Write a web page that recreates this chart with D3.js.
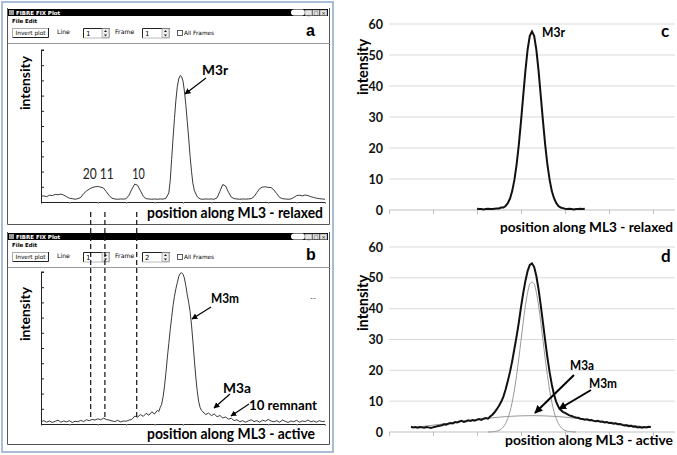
<!DOCTYPE html>
<html><head><meta charset="utf-8">
<script src="https://cdn.jsdelivr.net/npm/d3@7/dist/d3.min.js"></script>
<style>
body{margin:0;background:#fff}
svg{display:block}
text{font-family:Lato,"Open Sans",sans-serif}
</style>
</head><body>
<svg id="chart" width="677" height="455"></svg>
<script>
// ---------- DATA ----------
// panel a: relaxed profile (position, intensity in plot units)
const profileRelaxed = [[0,0.38],[1,0.40],[2,0.35],[3,0.45],[4,0.42],[5,0.50],[6,0.48],[7,0.52],[8,0.45],[9,0.35],[10,0.25],[11,0.22],[12,0.18],[13,0.22],[14,0.30],[15,0.55],[16,0.72],[17,0.85],[18,0.95],[19,1.00],[20,1.02],[21,0.98],[22,0.92],[23,0.68],[24,0.42],[25,0.25],[26,0.20],[27,0.18],[28,0.20],[29,0.19],[30,0.22],[31,0.45],[32,0.85],[33,1.18],[34,1.10],[35,0.75],[36,0.38],[37,0.22],[38,0.20],[39,0.18],[40,0.20],[41,0.18],[42,0.20],[43,0.19],[44,0.25],[45,0.60],[45.5,1.4],[46,2.8],[46.5,4.2],[47,5.5],[47.5,6.7],[48,7.6],[48.5,8.1],[49,8.32],[49.5,8.25],[50,7.95],[50.5,7.3],[51,6.4],[51.5,5.3],[52,4.2],[52.5,3.0],[53,2.0],[53.5,1.2],[54,0.75],[55,0.35],[56,0.20],[57,0.18],[58,0.20],[59,0.19],[60,0.20],[61,0.18],[62,0.28],[63,0.70],[64,1.15],[65,1.05],[66,0.65],[67,0.32],[68,0.22],[69,0.20],[70,0.18],[71,0.20],[72,0.19],[73,0.20],[74,0.22],[75,0.35],[76,0.62],[77,0.88],[78,0.98],[79,1.00],[80,0.96],[81,0.95],[82,0.80],[83,0.55],[84,0.30],[85,0.22],[86,0.20],[87,0.18],[88,0.20],[89,0.30],[90,0.42],[91,0.45],[92,0.40],[93,0.46],[94,0.42],[95,0.35],[96,0.30],[97,0.25],[98,0.22],[99,0.20],[100,0.18]];
// panel b: active profile
const profileActive = [[0,0.15],[1,0.22],[2,0.12],[3,0.2],[4,0.1],[5,0.18],[6,0.25],[7,0.12],[8,0.2],[9,0.14],[10,0.22],[11,0.1],[12,0.18],[13,0.15],[14,0.24],[15,0.16],[16,0.28],[17,0.22],[18,0.3],[19,0.26],[20,0.34],[21,0.28],[22,0.38],[23,0.3],[24,0.26],[25,0.2],[26,0.16],[27,0.24],[28,0.14],[29,0.2],[30,0.18],[31,0.26],[32,0.3],[33,0.52],[34,0.45],[35,0.62],[36,0.5],[37,0.7],[38,0.58],[39,0.8],[40,0.66],[41,0.9],[41.5,0.82],[42,1.1],[42.5,1.3],[43,1.8],[43.5,2.5],[44,3.4],[44.5,4.4],[45,5.3],[45.5,6.2],[46,7.0],[46.5,7.8],[47,8.4],[47.5,8.9],[48,9.3],[48.5,9.7],[49,9.9],[49.5,9.95],[50,9.85],[50.5,9.6],[51,9.1],[51.5,8.5],[52,8.0],[52.5,7.4],[53,6.5],[53.5,5.4],[54,4.2],[54.5,3.1],[55,2.2],[55.5,1.5],[56,1.1],[56.5,0.9],[57,0.8],[58,0.62],[59,0.72],[60,0.55],[61,0.66],[62,0.48],[63,0.56],[64,0.4],[65,0.46],[66,0.32],[67,0.38],[68,0.22],[69,0.28],[70,0.15],[71,0.22],[72,0.12],[73,0.2],[74,0.28],[75,0.16],[76,0.22],[77,0.12],[78,0.25],[79,0.18],[80,0.3],[81,0.2],[82,0.14],[83,0.22],[84,0.12],[85,0.26],[86,0.18],[87,0.1],[88,0.2],[89,0.15],[90,0.24],[91,0.12],[92,0.2],[93,0.16],[94,0.26],[95,0.14],[96,0.2],[97,0.12],[98,0.22],[99,0.16],[100,0.18]];
// reflection positions marked by dashed lines (20, 11, 10)
const reflectionPos = [17.5, 22.5, 33.7];
const reflectionLabels = ["20 11", "10"];
// panel c: relaxed M3 profile
const profileC = [[20,0.4],[20.5,0.3],[21,0.3],[21.5,0.2],[22,0.3],[22.5,0.4],[23,0.3],[23.5,0.3],[24,0.4],[24.5,0.5],[25,0.5],[25.5,0.8],[26,0.8],[26.5,1.3],[27,2.2],[27.5,3.7],[28,6.1],[28.5,9.7],[29,14.6],[29.5,21.0],[30,28.6],[30.5,36.8],[31,44.9],[31.5,51.7],[32,56.2],[32.5,57.6],[33,56.1],[33.5,51.6],[34,44.8],[34.5,36.7],[35,28.6],[35.5,21.0],[36,14.6],[36.5,9.8],[37,6.1],[37.5,3.8],[38,2.3],[38.5,1.3],[39,0.8],[39.5,0.6],[40,0.4],[40.5,0.3],[41,0.4],[41.5,0.3],[42,0.2],[42.5,0.3],[43,0.3],[43.5,0.4],[44,0.3],[44.5,0.4]];
// panel d: active M3 profile and its two fitted components
const profileD = [[5,1.7],[5.5,1.5],[6,1.6],[6.5,1.4],[7,1.6],[7.5,1.5],[8,1.4],[8.5,1.6],[9,1.5],[9.5,1.3],[10,1.5],[10.5,1.7],[11,1.9],[11.5,2.0],[12,2.2],[12.5,2.5],[13,2.4],[13.5,2.7],[14,2.9],[14.5,2.8],[15,3.2],[15.5,3.1],[16,3.4],[16.5,3.6],[17,3.3],[17.5,3.5],[18,3.8],[18.5,3.6],[19,3.9],[19.5,3.7],[20,4.0],[20.5,4.2],[21,3.9],[21.5,4.3],[22,4.5],[22.5,4.3],[23,5.0],[23.5,5.6],[24,6.4],[24.5,7.4],[25,8.5],[25.5,9.8],[26,11.5],[26.5,13.8],[27,16.5],[27.5,19.5],[28,23.0],[28.5,27.0],[29,31.0],[29.5,35.5],[30,40.5],[30.5,45.0],[31,49.0],[31.5,52.2],[32,54.2],[32.5,54.7],[33,53.5],[33.5,50.5],[34,46.2],[34.5,41.0],[35,35.3],[35.5,29.6],[36,24.2],[36.5,19.4],[37,15.4],[37.5,12.2],[38,9.8],[38.5,8.2],[39,7.2],[39.5,6.5],[40,6.2],[40.5,5.8],[41,5.4],[41.5,5.2],[42,4.9],[42.5,4.7],[43,4.6],[43.5,4.3],[44,4.2],[44.5,4.0],[45,4.1],[45.5,3.8],[46,3.9],[46.5,3.6],[47,3.5],[47.5,3.6],[48,3.3],[48.5,3.4],[49,3.1],[49.5,3.2],[50,2.9],[50.5,3.0],[51,2.7],[51.5,2.8],[52,2.5],[52.5,2.6],[53,2.3],[53.5,2.1],[54,2.2],[54.5,1.9],[55,2.0],[55.5,1.7],[56,1.8],[56.5,1.5],[57,1.6],[57.5,1.4],[58,1.6],[58.5,1.5],[59,1.7],[59.5,1.6]];
const fitM3m = [[22.5,0],[23,0.02],[23.5,0.08],[24,0.15],[24.5,0.29],[25,0.5],[25.5,0.97],[26,1.67],[26.5,2.76],[27,4.4],[27.5,6.6],[28,9.7],[28.5,13.6],[29,18.4],[29.5,23.8],[30,29.7],[30.5,35.6],[31,40.9],[31.5,45.2],[32,48.0],[32.5,48.6],[33,48.0],[33.5,45.2],[34,40.9],[34.5,35.6],[35,29.7],[35.5,23.8],[36,18.4],[36.5,13.6],[37,9.7],[37.5,6.6],[38,4.4],[38.5,2.76],[39,1.67],[39.5,0.97],[40,0.5],[40.5,0.29],[41,0.15],[41.5,0.08],[42,0.02],[42.5,0]];
const fitM3a = [[5,1.43],[7.5,1.8],[10,2.21],[12.5,2.65],[15,3.12],[17.5,3.59],[20,4.04],[22.5,4.46],[25,4.81],[27.5,5.08],[30,5.24],[32.5,5.3],[35,5.24],[37.5,5.08],[40,4.81],[42.5,4.46],[45,4.04],[47.5,3.59],[50,3.12],[52.5,2.65],[55,2.21],[57.5,1.8],[59.5,1.5]];
const yTicksRight = [0,10,20,30,40,50,60];
const xTicksRight = [0,10,20,30,40,50,60];

// ---------- DRAW ----------
const svg = d3.select("#chart");
const defs = svg.append("defs");
function marker(id, w){
  defs.append("marker").attr("id",id).attr("viewBox","0 0 10 10").attr("refX",9).attr("refY",5)
    .attr("markerUnits","userSpaceOnUse").attr("markerWidth",w).attr("markerHeight",w).attr("orient","auto")
    .append("path").attr("d","M0,0 L10,5 L0,10 z").attr("fill","#000");
}
marker("arS",6); marker("arL",8);

svg.append("rect").attr("x",2).attr("y",2).attr("width",331).attr("height",450)
  .attr("fill","none").attr("stroke","#a9bdd6").attr("stroke-width",2);

function chrome(dy, frameVal, letter, top, bottom){
  const g = svg.append("g").attr("transform",`translate(0,${dy})`);
  g.append("path").attr("d",`M7.5,${top} V${bottom} H329.5 V${top}`).attr("fill","none").attr("stroke","#555").attr("stroke-width",1);
  g.append("rect").attr("x",8).attr("y",9).attr("width",320).attr("height",7).attr("fill","#000");
  g.append("rect").attr("x",9).attr("y",10).attr("width",5).attr("height",5).attr("fill","#9a9a9a");
  g.append("text").attr("x",16).attr("y",14.6).attr("fill","#fff").attr("font-size",5.5).attr("font-weight","bold")
    .style("font-family","DejaVu Sans").text("FIBRE FIX Plot");
  g.append("rect").attr("x",291).attr("y",9.6).attr("width",14).attr("height",6).attr("rx",3).attr("fill","#fff");
  [305,312.5,320].forEach((bx,i)=>{
    g.append("rect").attr("x",bx).attr("y",10).attr("width",7).attr("height",5.5).attr("fill","#e4e4e4").attr("stroke","#666").attr("stroke-width",0.5);
    g.append("text").attr("x",bx+3.5).attr("y",14.8).attr("text-anchor","middle").attr("font-size",5).attr("fill","#000")
      .style("font-family","DejaVu Sans").text(["_","□","×"][i]);
  });
  g.append("text").attr("x",12).attr("y",22.5).attr("font-size",5.5).attr("font-weight","bold").style("font-family","DejaVu Sans").text("File");
  g.append("text").attr("x",25).attr("y",22.5).attr("font-size",5.5).attr("font-weight","bold").style("font-family","DejaVu Sans").text("Edit");
  g.append("rect").attr("x",12).attr("y",28).attr("width",37).attr("height",9.5).attr("fill","#fff");
  g.append("path").attr("d","M12.5,37 V28.5 H48").attr("fill","none").attr("stroke","#aaa");
  g.append("path").attr("d","M12.5,37.5 H48.5 V28").attr("fill","none").attr("stroke","#222");
  g.append("text").attr("x",30.5).attr("y",35.2).attr("text-anchor","middle").attr("font-size",5.8).style("font-family","DejaVu Sans").text("Invert plot");
  g.append("text").attr("x",57).attr("y",33.8).attr("font-size",6.2).style("font-family","DejaVu Sans").text("Line");
  function spin(x, w, val){
    g.append("rect").attr("x",x).attr("y",28).attr("width",w).attr("height",10).attr("fill","#fff");
    g.append("path").attr("d",`M${x+0.5},38 V28.5 H${x+w}`).attr("fill","none").attr("stroke","#222");
    g.append("path").attr("d",`M${x+0.5},38 H${x+w-0.5} V28.5`).attr("fill","none").attr("stroke","#bbb");
    g.append("text").attr("x",x+3).attr("y",36).attr("font-size",7).style("font-family","DejaVu Sans").text(val);
    const bx = x+w-8;
    g.append("rect").attr("x",bx).attr("y",28.5).attr("width",7).attr("height",9).attr("fill","#eee").attr("stroke","#777").attr("stroke-width",0.5);
    g.append("path").attr("d",`M${bx+2},32 L${bx+3.5},30 L${bx+5},32 Z M${bx+2},34.5 L${bx+3.5},36.5 L${bx+5},34.5 Z`).attr("fill","#222");
  }
  spin(83,27,"1");
  g.append("text").attr("x",115).attr("y",33.8).attr("font-size",6.2).style("font-family","DejaVu Sans").text("Frame");
  spin(142,28,frameVal);
  g.append("rect").attr("x",177.5).attr("y",30.5).attr("width",5).attr("height",5).attr("fill","#fff").attr("stroke","#333").attr("stroke-width",0.8);
  g.append("text").attr("x",184).attr("y",35).attr("font-size",5.8).style("font-family","DejaVu Sans").text("All Frames");
  g.append("text").attr("x",306).attr("y",36).attr("font-size",16).attr("font-weight","bold")
    .style("font-family","Liberation Sans").text(letter);
  g.append("line").attr("x1",8).attr("x2",330).attr("y1",43.5).attr("y2",43.5).attr("stroke","#999");
}
chrome(0,"1","a",8,224.5);
chrome(224,"2","b",8,220.5);

// left plots
const xL = d3.scaleLinear().domain([0,100]).range([41,325]);
const yA = d3.scaleLinear().domain([0,10]).range([202,50]);
const yB = d3.scaleLinear().domain([0,10]).range([424,272]);

function leftPlot(y, data, yLabelY, xLabel, xLabelY, xLabelEnd, xLabelLen){
  const g = svg.append("g");
  const ax = g.append("g").attr("transform","translate(0,"+y.range()[0]+")")
    .call(d3.axisBottom(xL).ticks(10).tickSize(2).tickFormat("").tickSizeOuter(0));
  ax.select(".domain").attr("stroke","#222");
  ax.selectAll(".tick line").attr("stroke","#999");
  const ay = g.append("g").attr("transform","translate(41,0)")
    .call(d3.axisRight(y).ticks(10).tickSize(3).tickFormat("").tickSizeOuter(0));
  ay.select(".domain").attr("stroke","#222");
  ay.selectAll(".tick line").attr("stroke","#222");
  g.append("line").attr("x1",41).attr("x2",44).attr("y1",y.range()[1]).attr("y2",y.range()[1]).attr("stroke","#222");
  g.append("path").datum(data)
    .attr("d",d3.line().x(d=>xL(d[0])).y(d=>y(d[1])))
    .attr("fill","none").attr("stroke","#222").attr("stroke-width",0.9);
  g.append("text").attr("transform",`translate(30,${yLabelY}) rotate(-90)`).attr("text-anchor","middle")
    .attr("font-size",14).attr("font-weight","bold").text("intensity");
  g.append("text").attr("x",xLabelEnd).attr("y",xLabelY).attr("text-anchor","end").attr("font-size",14.5).attr("font-weight","bold")
    .attr("textLength",xLabelLen).attr("lengthAdjust","spacingAndGlyphs").text(xLabel);
  return g;
}
const gA = leftPlot(yA, profileRelaxed, 83, "position along ML3 - relaxed", 217.5, 323, 176);
const gB = leftPlot(yB, profileActive, 314, "position along ML3 - active", 439, 315, 168);

gA.append("text").attr("x",xL(reflectionPos[0])-8).attr("y",179).attr("font-size",14.5)
  .attr("textLength",31).attr("lengthAdjust","spacingAndGlyphs").attr("fill","#222").text(reflectionLabels[0]);
gA.append("text").attr("x",xL(reflectionPos[2])-4.5).attr("y",179).attr("font-size",14.5)
  .attr("textLength",12.5).attr("lengthAdjust","spacingAndGlyphs").attr("fill","#222").text(reflectionLabels[1]);
svg.selectAll("line.refl").data(reflectionPos).join("line").attr("class","refl")
  .attr("x1",d=>xL(d)).attr("x2",d=>xL(d)).attr("y1",212).attr("y2",417)
  .attr("stroke","#111").attr("stroke-width",1.2).attr("stroke-dasharray","5,3");

function ann(g, x, y, txt, size, len){
  const t = g.append("text").attr("x",x).attr("y",y).attr("font-size",size).attr("font-weight","bold").text(txt);
  if(len) t.attr("textLength",len).attr("lengthAdjust","spacingAndGlyphs");
}
function arrow(g, x1,y1,x2,y2, w, m){
  g.append("line").attr("x1",x1).attr("y1",y1).attr("x2",x2).attr("y2",y2)
    .attr("stroke","#000").attr("stroke-width",w).attr("marker-end",`url(#${m})`);
}
ann(gA,202,75,"M3r",14,26);
arrow(gA,206,78,185,94,1.2,"arS");
ann(gB,211,303,"M3m",14,28);
arrow(gB,211,307,192,319,1.2,"arS");
ann(gB,223,393,"M3a",14,28);
arrow(gB,230,394,214,408,1.2,"arS");
ann(gB,249,410,"10 remnant",14,68);
arrow(gB,249,404,231,416,1.2,"arS");
gB.append("text").attr("x",310).attr("y",301).attr("font-size",8).attr("fill","#333").text("--");

// right plots
const xR = d3.scaleLinear().domain([0,65]).range([389,675]);
const yC = d3.scaleLinear().domain([0,60]).range([210,24]);
const yD = d3.scaleLinear().domain([0,60]).range([432,247]);

function rightPlot(y, yLabelY, xLabel, xLabelY, xLabelLen){
  const g = svg.append("g");
  g.selectAll("line.grid").data(yTicksRight).join("line").attr("class","grid")
    .attr("x1",xR(0)).attr("x2",xR(65)).attr("y1",d=>y(d)).attr("y2",d=>y(d))
    .attr("stroke",d=>d===0?"#bfbfbf":"#d9d9d9").attr("stroke-width",1);
  const ax = g.append("g").attr("transform","translate(0,"+y(0)+")")
    .call(d3.axisBottom(xR).tickValues(xTicksRight).tickSize(4).tickFormat("").tickSizeOuter(0));
  ax.select(".domain").remove();
  ax.selectAll(".tick line").attr("stroke","#bfbfbf");
  const ay = g.append("g").attr("transform","translate(389,0)")
    .call(d3.axisLeft(y).tickValues(yTicksRight).tickSize(0).tickPadding(6));
  ay.select(".domain").remove();
  ay.selectAll("text").attr("font-size",12.5).attr("font-weight","bold").attr("fill","#111")
    .style("font-family","Lato");
  g.append("text").attr("transform",`translate(368,${yLabelY}) rotate(-90)`).attr("text-anchor","middle")
    .attr("font-size",14.5).attr("font-weight","bold").text("intensity");
  g.append("text").attr("x",673).attr("y",xLabelY).attr("text-anchor","end").attr("font-size",13.5).attr("font-weight","bold")
    .attr("textLength",xLabelLen).attr("lengthAdjust","spacingAndGlyphs").text(xLabel);
  return g;
}
const gC = rightPlot(yC, 67, "position along ML3 - relaxed", 232, 173);
const gD = rightPlot(yD, 303, "position along ML3 - active", 445, 168);

const lineC = d3.line().x(d=>xR(d[0])).y(d=>yC(d[1]));
const lineD = d3.line().x(d=>xR(d[0])).y(d=>yD(d[1]));
gC.append("path").datum(profileC).attr("d",lineC).attr("fill","none").attr("stroke","#111").attr("stroke-width",2);
gD.append("path").datum(fitM3a).attr("d",lineD.curve(d3.curveMonotoneX)).attr("fill","none").attr("stroke","#999").attr("stroke-width",1);
gD.append("path").datum(fitM3m).attr("d",lineD.curve(d3.curveMonotoneX)).attr("fill","none").attr("stroke","#999").attr("stroke-width",1);
gD.append("path").datum(profileD).attr("d",lineD.curve(d3.curveLinear)).attr("fill","none").attr("stroke","#111").attr("stroke-width",2);

ann(gC,542,37,"M3r",13,23);
ann(gC,661,37,"c",17);
ann(gD,661,262,"d",17);
ann(gD,570,370,"M3a",13,24);
arrow(gD,574,375,535,413,2,"arL");
ann(gD,589,388,"M3m",13,28);
arrow(gD,591,390,559,409,2,"arL");
</script>
</body></html>
